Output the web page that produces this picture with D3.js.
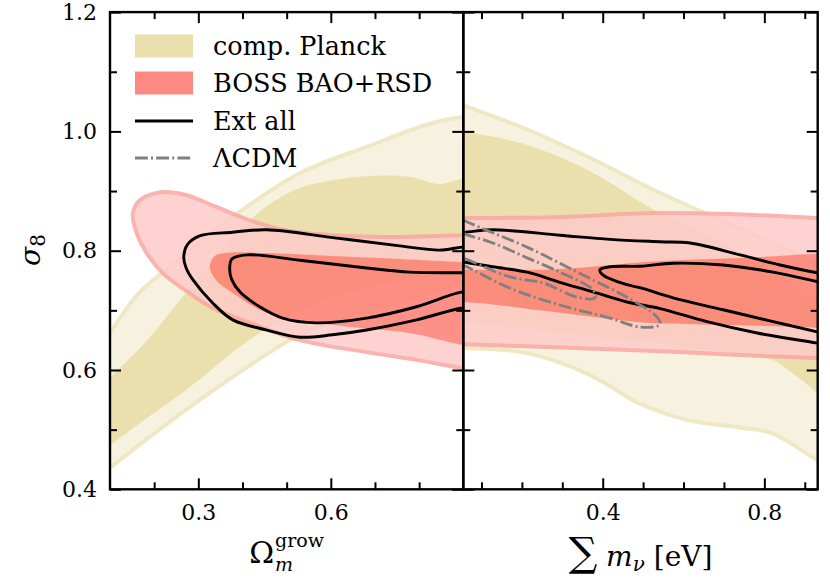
<!DOCTYPE html>
<html>
<head>
<meta charset="utf-8">
<script src="https://cdn.jsdelivr.net/npm/d3@7"></script>
<style>
  body { margin: 0; background: #fff; }
  text { font-family: "DejaVu Serif", serif; fill: #000; }
</style>
</head>
<body>
<svg id="chart" width="830" height="581"></svg>
<script>
// ---- tick values ----
const yTicks = [0.4, 0.6, 0.8, 1.0, 1.2];
const yMinor = [0.5, 0.7, 0.9, 1.1];
const omTicks = [0.3, 0.6];
const omMinor = [0.2, 0.4, 0.5, 0.7, 0.8];
const mnuTicks = [0.4, 0.8];
const mnuMinor = [0.1, 0.2, 0.3, 0.5, 0.6, 0.7, 0.9];

const legendLabels = ["comp. Planck", "BOSS BAO+RSD", "Ext all", "\u039BCDM"];

// ---- left panel contours: [Omega_m^grow, sigma_8] ----
const planckOuterOm = [[0.05,0.61],[0.1,0.663],[0.168,0.731],[0.242,0.776],[0.378,0.857],[0.53,0.93],[0.681,0.974],[0.83,1.014],[0.898,1.024],[0.96,1.03],
  [0.96,0.762],[0.898,0.748],[0.756,0.714],[0.597,0.681],[0.5,0.647],[0.417,0.608],[0.303,0.55],[0.19,0.488],[0.1,0.436],[0.05,0.405]];
const planckInnerOm = [[0.05,0.55],[0.1,0.587],[0.19,0.655],[0.258,0.717],[0.33,0.78],[0.394,0.835],[0.455,0.875],[0.53,0.905],[0.604,0.918],[0.68,0.925],[0.778,0.924],[0.846,0.912],[0.898,0.921],[0.96,0.93],
  [0.96,0.785],[0.898,0.775],[0.75,0.75],[0.6,0.72],[0.5,0.69],[0.423,0.654],[0.378,0.63],[0.303,0.584],[0.242,0.55],[0.168,0.511],[0.1,0.474],[0.05,0.45]];
const bossOuterOm = [[0.152,0.863],[0.168,0.885],[0.206,0.897],[0.236,0.898],[0.274,0.893],[0.342,0.873],[0.417,0.851],[0.491,0.835],[0.604,0.826],[0.756,0.823],[0.898,0.826],[0.96,0.828],
  [0.96,0.598],[0.898,0.603],[0.794,0.617],[0.681,0.63],[0.53,0.65],[0.417,0.679],[0.33,0.705],[0.274,0.732],[0.22,0.762],[0.18,0.8],[0.158,0.835]];
const bossInnerOm = [[0.326,0.772],[0.335,0.79],[0.36,0.796],[0.455,0.796],[0.604,0.791],[0.756,0.786],[0.898,0.781],[0.96,0.78],
  [0.96,0.636],[0.898,0.642],[0.778,0.662],[0.604,0.676],[0.455,0.696],[0.378,0.729],[0.34,0.751]];
const extOuterOm = [[0.267,0.789],[0.275,0.81],[0.303,0.825],[0.378,0.831],[0.455,0.835],[0.604,0.822],[0.756,0.808],[0.846,0.801],[0.898,0.806],[0.96,0.808],
  [0.96,0.706],[0.898,0.704],[0.794,0.684],[0.681,0.667],[0.604,0.659],[0.53,0.655],[0.455,0.667],[0.378,0.684],[0.333,0.712],[0.288,0.751],[0.272,0.772]];
const extInnerOm = [[0.371,0.768],[0.376,0.786],[0.41,0.793],[0.53,0.784],[0.681,0.771],[0.778,0.764],[0.898,0.763],[0.96,0.763],
  [0.96,0.732],[0.898,0.731],[0.794,0.706],[0.681,0.687],[0.568,0.679],[0.491,0.687],[0.439,0.706],[0.394,0.731],[0.376,0.751]];

// ---- right panel contours: [sum m_nu, sigma_8] ----
const planckOuterMnu = [[0.0,1.06],[0.054,1.044],[0.2,1.007],[0.364,0.957],[0.529,0.901],[0.693,0.851],[0.859,0.801],[0.931,0.777],[0.99,0.758],
  [0.99,0.43],[0.931,0.449],[0.819,0.494],[0.735,0.504],[0.611,0.516],[0.487,0.545],[0.406,0.578],[0.324,0.605],[0.2,0.63],[0.059,0.637],[0.0,0.64]];
const planckInnerMnu = [[0.0,1.005],[0.059,0.999],[0.2,0.98],[0.364,0.935],[0.529,0.868],[0.65,0.83],[0.8,0.77],[0.931,0.72],[0.99,0.7],
  [0.99,0.52],[0.931,0.561],[0.859,0.6],[0.819,0.617],[0.7,0.63],[0.55,0.645],[0.4,0.655],[0.2,0.67],[0.06,0.68],[0.0,0.685]];
const bossOuterMnu = [[0.0,0.855],[0.059,0.855],[0.282,0.856],[0.529,0.863],[0.777,0.86],[0.926,0.855],[0.99,0.853],
  [0.99,0.618],[0.926,0.62],[0.777,0.624],[0.529,0.632],[0.282,0.638],[0.059,0.643],[0.0,0.645]];
const bossInnerMnu = [[0.0,0.768],[0.059,0.768],[0.282,0.769],[0.529,0.782],[0.777,0.789],[0.926,0.795],[0.99,0.797],
  [0.99,0.668],[0.926,0.671],[0.777,0.674],[0.611,0.677],[0.492,0.68],[0.364,0.69],[0.245,0.7],[0.128,0.71],[0.054,0.714],[0.0,0.716]];
const extOuterMnu = [[0.0,0.832],[0.054,0.831],[0.128,0.835],[0.294,0.826],[0.418,0.819],[0.542,0.815],[0.616,0.813],[0.74,0.793],[0.839,0.776],[0.931,0.763],[0.99,0.757],
  [0.99,0.637],[0.931,0.645],[0.782,0.662],[0.658,0.681],[0.542,0.703],[0.46,0.714],[0.376,0.731],[0.294,0.747],[0.213,0.764],[0.128,0.773],[0.054,0.781],[0.0,0.785]];
const extInnerMnu = [[0.393,0.768],[0.418,0.773],[0.492,0.774],[0.574,0.779],[0.698,0.776],[0.822,0.764],[0.931,0.748],[0.99,0.739],
  [0.99,0.655],[0.931,0.664],[0.822,0.681],[0.698,0.701],[0.574,0.721],[0.492,0.738],[0.46,0.743],[0.401,0.759]];
const lcdmOuterMnu = [[0.0,0.865],[0.054,0.851],[0.128,0.83],[0.213,0.806],[0.294,0.779],[0.376,0.751],[0.46,0.722],[0.534,0.689],[0.542,0.676],
  [0.492,0.672],[0.418,0.687],[0.294,0.709],[0.171,0.737],[0.054,0.776],[0.0,0.79]];
const lcdmInnerMnu = [[0.0,0.845],[0.054,0.829],[0.128,0.813],[0.213,0.788],[0.294,0.764],[0.376,0.734],[0.381,0.721],
  [0.337,0.722],[0.252,0.746],[0.171,0.756],[0.054,0.788],[0.0,0.8]];

// ---- layout ----
const plotTop = 12.1, plotBottom = 489.3;
const leftX0 = 110, midX = 463.3, rightX1 = 817.7;

const svg = d3.select("#chart");
const y = d3.scaleLinear().domain([0.4, 1.2]).range([plotBottom, plotTop]);
const xL = d3.scaleLinear().domain([0.1, 0.9]).range([leftX0, midX]);
const xR = d3.scaleLinear().domain([0.055, 0.932]).range([midX, rightX1]);

const colors = {
  planckOuter: "#f7f2df",
  planckEdge: "#f0e7c4",
  planckInner: "#ebe0ad",
  bossOuter: "rgb(253,203,200)",
  bossEdge: "rgb(251,166,162)",
  bossInner: "rgb(253,126,114)",
  lcdm: "#808080"
};

const defs = svg.append("defs");
defs.append("clipPath").attr("id", "clipL")
  .append("rect").attr("x", leftX0).attr("y", plotTop).attr("width", midX - leftX0).attr("height", plotBottom - plotTop);
defs.append("clipPath").attr("id", "clipR")
  .append("rect").attr("x", midX).attr("y", plotTop).attr("width", rightX1 - midX).attr("height", plotBottom - plotTop);

function drawPanel(x, clipId, c) {
  const line = d3.line()
    .x(d => x(d[0]))
    .y(d => y(d[1]))
    .curve(d3.curveCatmullRomClosed.alpha(0.5));

  const g = svg.append("g").attr("clip-path", `url(#${clipId})`);

  // comp. Planck
  g.append("path").attr("d", line(c.planckOuter))
    .attr("fill", colors.planckOuter).attr("stroke", colors.planckEdge).attr("stroke-width", 4);
  g.append("path").attr("d", line(c.planckInner))
    .attr("fill", colors.planckInner).attr("stroke", "none");

  // BOSS BAO+RSD, slightly transparent
  const gb = g.append("g").attr("opacity", 0.85);
  gb.append("path").attr("d", line(c.bossOuter))
    .attr("fill", colors.bossOuter).attr("stroke", colors.bossEdge).attr("stroke-width", 4);
  gb.append("path").attr("d", line(c.bossInner))
    .attr("fill", colors.bossInner).attr("stroke", "none");

  // Ext all
  [c.extOuter, c.extInner].forEach(pts => {
    g.append("path").attr("d", line(pts))
      .attr("fill", "none").attr("stroke", "#000").attr("stroke-width", 2.9);
  });

  // LCDM
  (c.lcdm || []).forEach(pts => {
    g.append("path").attr("d", line(pts))
      .attr("fill", "none").attr("stroke", colors.lcdm).attr("stroke-width", 2.8)
      .attr("stroke-dasharray", "12.8,3.2,2,3.2");
  });
}

drawPanel(xL, "clipL", {
  planckOuter: planckOuterOm, planckInner: planckInnerOm,
  bossOuter: bossOuterOm, bossInner: bossInnerOm,
  extOuter: extOuterOm, extInner: extInnerOm
});
drawPanel(xR, "clipR", {
  planckOuter: planckOuterMnu, planckInner: planckInnerMnu,
  bossOuter: bossOuterMnu, bossInner: bossInnerMnu,
  extOuter: extOuterMnu, extInner: extInnerMnu,
  lcdm: [lcdmOuterMnu, lcdmInnerMnu]
});

// ---- axes, ticks pointing inward on all sides ----
const fmt = d3.format(".1f");
function addAxis(axis, tx, ty, labelled) {
  const g = svg.append("g").attr("transform", `translate(${tx},${ty})`).call(axis);
  g.select(".domain").remove();
  g.selectAll(".tick line").attr("stroke", "#000").attr("stroke-width", 2);
  g.selectAll("text").style("font-size", "22px").style("font-family", "DejaVu Serif, serif").attr("fill", "#000");
  if (!labelled) g.selectAll("text").remove();
  return g;
}

[[xL, omTicks, omMinor], [xR, mnuTicks, mnuMinor]].forEach(([x, maj, mnr]) => {
  addAxis(d3.axisBottom(x).tickValues(maj).tickSize(-11).tickPadding(15).tickFormat(fmt), 0, plotBottom, true);
  addAxis(d3.axisBottom(x).tickValues(mnr).tickSize(-7).tickFormat(""), 0, plotBottom, false);
  addAxis(d3.axisTop(x).tickValues(maj).tickSize(-11).tickFormat(""), 0, plotTop, false);
  addAxis(d3.axisTop(x).tickValues(mnr).tickSize(-7).tickFormat(""), 0, plotTop, false);
});

addAxis(d3.axisLeft(y).tickValues(yTicks).tickSize(-11).tickPadding(13).tickFormat(fmt), leftX0, 0, true);
addAxis(d3.axisLeft(y).tickValues(yMinor).tickSize(-7).tickFormat(""), leftX0, 0, false);
[midX, rightX1].forEach(xp => {
  addAxis(d3.axisRight(y).tickValues(yTicks).tickSize(-11).tickFormat(""), xp, 0, false);
  addAxis(d3.axisRight(y).tickValues(yMinor).tickSize(-7).tickFormat(""), xp, 0, false);
});
addAxis(d3.axisLeft(y).tickValues(yTicks).tickSize(-11).tickFormat(""), midX, 0, false);
addAxis(d3.axisLeft(y).tickValues(yMinor).tickSize(-7).tickFormat(""), midX, 0, false);

// panel frames
[[leftX0, midX], [midX, rightX1]].forEach(([a, b]) => {
  svg.append("rect").attr("x", a).attr("y", plotTop).attr("width", b - a).attr("height", plotBottom - plotTop)
    .attr("fill", "none").attr("stroke", "#000").attr("stroke-width", 2.4);
});

// ---- axis labels ----
const ylab = svg.append("text")
  .attr("transform", "translate(40,250) rotate(-90)")
  .attr("text-anchor", "middle");
ylab.append("tspan").text("\u03C3").style("font-style", "italic").style("font-size", "28px");
ylab.append("tspan").text("8").attr("dy", 5).style("font-size", "20px");

// Omega_m^grow: separate pieces so the sub/superscript stack cleanly
const omX = (leftX0 + midX) / 2;
const omBig = svg.append("text").attr("y", 563).style("font-size", "30px").text("\u03A9");
const omSup = svg.append("text").attr("y", 547).style("font-size", "19px").text("grow");
const omSub = svg.append("text").attr("y", 571).style("font-size", "19px").style("font-style", "italic").text("m");
const wBig = omBig.node().getComputedTextLength();
const wSup = omSup.node().getComputedTextLength();
const x0 = omX - (wBig + 1 + wSup) / 2;
omBig.attr("x", x0);
omSup.attr("x", x0 + wBig + 1);
omSub.attr("x", x0 + wBig + 1);

const xlabR = svg.append("text")
  .attr("x", (midX + rightX1) / 2).attr("y", 566)
  .attr("text-anchor", "middle");
xlabR.append("tspan").text("\u2211").style("font-size", "40px");
xlabR.append("tspan").text(" m").style("font-style", "italic").style("font-size", "28px");
xlabR.append("tspan").text("\u03BD").attr("dy", 5).style("font-style", "italic").style("font-size", "20px");
xlabR.append("tspan").text(" [eV]").attr("dy", -5).style("font-size", "28px");

// ---- legend ----
const legend = svg.append("g");
const rowY = [46, 83, 121, 158];
legend.append("rect").attr("x", 135).attr("y", rowY[0] - 11.5).attr("width", 58).attr("height", 23)
  .attr("fill", colors.planckInner);
legend.append("rect").attr("x", 135).attr("y", rowY[1] - 11.5).attr("width", 58).attr("height", 23)
  .attr("fill", "#fd8a82");
legend.append("line").attr("x1", 135).attr("x2", 193).attr("y1", rowY[2]).attr("y2", rowY[2])
  .attr("stroke", "#000").attr("stroke-width", 2.9);
legend.append("line").attr("x1", 135).attr("x2", 193).attr("y1", rowY[3]).attr("y2", rowY[3])
  .attr("stroke", colors.lcdm).attr("stroke-width", 2.8).attr("stroke-dasharray", "12.8,3.2,2,3.2");
legend.selectAll("text.lab").data(legendLabels).join("text")
  .attr("class", "lab")
  .attr("x", 213).attr("y", (d, i) => rowY[i] + 9)
  .style("font-size", "25.5px")
  .text(d => d);
</script>
</body>
</html>
